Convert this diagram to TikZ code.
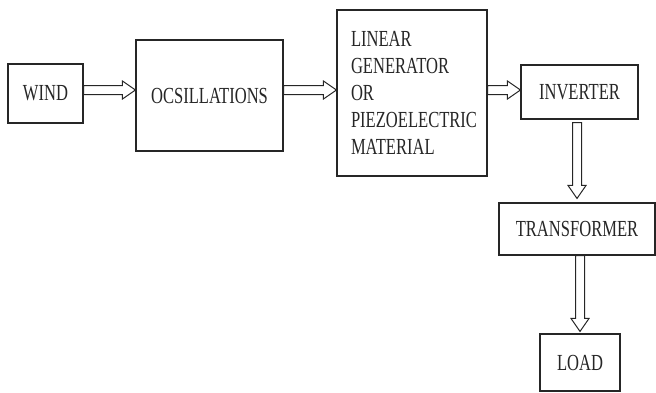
\documentclass[tikz,border=0pt]{standalone}
\usepackage{fontspec}
\setmainfont{Liberation Serif}[FakeStretch=0.72]
\usetikzlibrary{calc}
\tikzset{every picture/.append style={
    line join=miter,
    line cap=butt
  },
  blockbox/.style={draw=black!85,line width=1.1pt,inner sep=0pt,font=\fontsize{23}{27}\selectfont,text=black!85}}

% hollow arrow from #1 to #2
\newcommand{\hollowarrow}[2]{%
  \coordinate (s) at (#1);
  \coordinate (e) at (#2);
  \coordinate (m) at ($(e)!13pt!(s)$);
  \draw [line width=1pt,draw=black!85] ($(s)!4.5pt!90:(e)$) -- ($(m)!4.5pt!-90:(s)$) -- ($(m)!9pt!-90:(s)$) -- (e) -- ($(m)!9pt!90:(s)$) -- ($(m)!4.5pt!90:(s)$) -- ($(s)!4.5pt!-90:(e)$) -- cycle;
}

\begin{document}
\begin{tikzpicture}[x=1pt,y=-1pt]
    \useasboundingbox (0,0) rectangle (656,392);
    \node [blockbox,minimum width=75,minimum height=59] (wind) at (45.5,93.5) {WIND};
    \node [blockbox,minimum width=147,minimum height=111] (osc) at (209.5,95.5) {OCSILLATIONS};
    \node [blockbox,minimum width=150,minimum height=166,text width=122,align=left] (gen) at (412,93) {LINEAR\\GENERATOR\\OR\\PIEZOELECTRIC\\MATERIAL};
    \node [blockbox,minimum width=117,minimum height=54] (inv) at (579.5,92) {INVERTER};
    \node [blockbox,minimum width=156,minimum height=52] (trans) at (577,229) {TRANSFORMER};
    \node [blockbox,minimum width=80,minimum height=57] (load) at (580,362.5) {LOAD};
    \hollowarrow{wind.east |- 0,90}{osc.west |- 0,90}
    \hollowarrow{osc.east |- 0,90}{gen.west |- 0,90}
    \hollowarrow{gen.east |- 0,90}{inv.west |- 0,90}
    \hollowarrow{$(inv.south -| trans.north)+(0,3)$}{$(trans.north)+(0,-4)$}
    \hollowarrow{trans.south -| load.north}{$(load.north)+(0,-2)$}
\end{tikzpicture}
\end{document}
